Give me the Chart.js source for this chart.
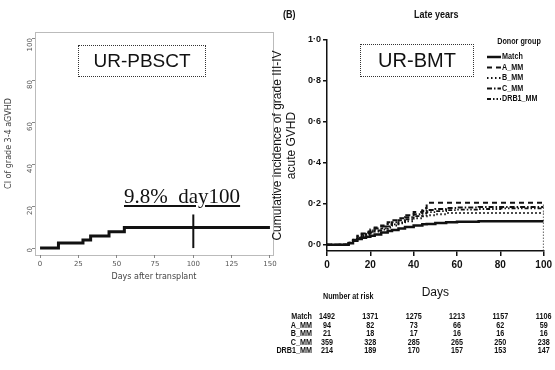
<!DOCTYPE html>
<html>
<head>
<meta charset="utf-8">
<script src="https://cdn.jsdelivr.net/npm/chart.js@4.4.0/dist/chart.umd.min.js"></script>
<style>
  body { margin: 0; background: #fff; width: 555px; height: 370px; overflow: hidden; position: relative; }
  canvas { position: absolute; top: 0; }
  #pbChart { left: 0; }
  #bmtChart { left: 270px; }
  .box { position: absolute; border: 1px dotted #333; font-family: "Liberation Sans", Arial, sans-serif; color: #111; text-align: center; box-sizing: border-box; }
  .lbl { position: absolute; color: #111; white-space: nowrap; }
  .narrow { font-family: "Liberation Sans", Arial, sans-serif; font-weight: bold; transform-origin: left top; transform: scaleX(0.82); }
</style>
</head>
<body>
<canvas id="pbChart" width="280" height="282"></canvas>
<canvas id="bmtChart" width="285" height="370"></canvas>

<div class="box" style="left:78px;top:45px;width:128px;height:32px;font-size:19px;line-height:30px;">UR-PBSCT</div>
<div class="box" style="left:360px;top:44px;width:114px;height:33px;font-size:20px;line-height:31px;">UR-BMT</div>
<div class="lbl" style="left:124px;top:184px;font-family:'Liberation Serif',serif;font-size:21px;text-decoration:underline;">9.8%&nbsp;&nbsp;day100</div>
<div class="lbl narrow" style="left:283px;top:8px;font-size:11px;">(B)</div>
<div class="lbl narrow" style="left:414px;top:8px;font-size:11px;">Late years</div>

<script>
// Left panel: UR-PBSCT, CI of grade 3-4 aGVHD (%)
const pbDays = [0, 12, 28, 33, 45, 55, 150];
const pbCI = [0, 2.4, 3.9, 5.8, 7.8, 9.8, 9.8];
const pbMarkDays = [100, 100];
const pbMarkCI = [0, 16];
const pbTicksX = [0, 25, 50, 75, 100, 125, 150];
const pbTicksY = [0, 20, 40, 60, 80, 100];

// Right panel: UR-BMT, cumulative incidence by donor group
const days = [0, 5, 8, 10, 12, 14, 16, 18, 20, 22, 25, 28, 30, 33, 36, 40, 44, 46, 50, 55, 60, 70, 80, 90, 100];
const matchCI = [0, 0, 0.002, 0.008, 0.02, 0.028, 0.035, 0.04, 0.045, 0.05, 0.06, 0.068, 0.073, 0.08, 0.087, 0.095, 0.1, 0.102, 0.107, 0.11, 0.113, 0.115, 0.115, 0.115, 0.115];
const aMM = [0, 0, 0, 0.01, 0.03, 0.045, 0.055, 0.065, 0.075, 0.085, 0.095, 0.11, 0.12, 0.13, 0.145, 0.16, 0.18, 0.205, 0.205, 0.205, 0.205, 0.205, 0.205, 0.205, 0.205];
const bMM = [0, 0, 0, 0.01, 0.02, 0.03, 0.04, 0.05, 0.06, 0.065, 0.075, 0.085, 0.095, 0.105, 0.115, 0.13, 0.14, 0.145, 0.15, 0.155, 0.155, 0.155, 0.155, 0.155, 0.155];
const cMM = [0, 0, 0, 0.01, 0.025, 0.04, 0.05, 0.06, 0.07, 0.08, 0.09, 0.1, 0.11, 0.12, 0.135, 0.15, 0.165, 0.17, 0.175, 0.18, 0.182, 0.185, 0.185, 0.185, 0.185];
const drb1MM = [0, 0, 0, 0.008, 0.022, 0.035, 0.045, 0.055, 0.063, 0.07, 0.08, 0.09, 0.1, 0.11, 0.125, 0.14, 0.155, 0.16, 0.165, 0.17, 0.172, 0.175, 0.178, 0.178, 0.178];
const endDays = [100, 100];
const endCI = [-0.03, 0.2];
const groups = ['Match', 'A_MM', 'B_MM', 'C_MM', 'DRB1_MM'];
const bmtTicksX = [0, 20, 40, 60, 80, 100];
const bmtTicksY = [0, 0.2, 0.4, 0.6, 0.8, 1.0];

// Number at risk
const riskDays = [0, 20, 40, 60, 80, 100];
const riskMatch = [1492, 1371, 1275, 1213, 1157, 1106];
const riskA = [94, 82, 73, 66, 62, 59];
const riskB = [21, 18, 17, 16, 16, 16];
const riskC = [359, 328, 285, 265, 250, 238];
const riskDRB1 = [214, 189, 170, 157, 153, 147];

const SANS = '"Liberation Sans", Arial, sans-serif';
const toXY = (xs, ys) => xs.map((x, i) => ({ x: x, y: ys[i] }));

// dotted frame round the left plot
const framePlugin = {
    id: 'frame',
    afterDraw(chart) {
        const a = chart.chartArea, ctx = chart.ctx;
        ctx.save();
        ctx.strokeStyle = '#777';
        ctx.lineWidth = 1;
        ctx.setLineDash([1, 1]);
        ctx.strokeRect(a.left + 0.5, a.top + 0.5, a.right - a.left, a.bottom - a.top);
        ctx.restore();
    }
};

new Chart(document.getElementById('pbChart'), {
    type: 'line',
    data: {
        datasets: [
            { data: toXY(pbDays, pbCI), stepped: true, borderColor: '#111', borderWidth: 3, pointRadius: 0 },
            { data: toXY(pbMarkDays, pbMarkCI), borderColor: '#111', borderWidth: 2, pointRadius: 0 }
        ]
    },
    options: {
        responsive: false,
        animation: false,
        layout: { padding: { top: 32, right: 7, left: 4, bottom: 0 } },
        plugins: { legend: { display: false }, tooltip: { enabled: false } },
        scales: {
            x: {
                type: 'linear', min: -3.3, max: 152,
                afterBuildTicks: s => { s.ticks = pbTicksX.map(v => ({ value: v })); },
                afterFit: s => { s.height = 27; },
                ticks: { font: { size: 7, family: 'DejaVu Sans' }, color: '#555', padding: 2 },
                grid: { drawOnChartArea: false, tickLength: 3, color: '#888' },
                border: { display: false },
                title: { display: true, text: 'Days after transplant', font: { size: 8, family: 'DejaVu Sans' }, color: '#444', padding: 0 }
            },
            y: {
                min: -3.3, max: 102.9,
                afterBuildTicks: s => { s.ticks = pbTicksY.map(v => ({ value: v })); },
                afterFit: s => { s.width = 31; },
                ticks: { font: { size: 7, family: 'DejaVu Sans' }, color: '#555', padding: 2, minRotation: 90, maxRotation: 90 },
                grid: { drawOnChartArea: false, tickLength: 3, color: '#888' },
                border: { display: false },
                title: { display: true, text: 'CI of grade 3-4 aGVHD', font: { size: 8, family: 'DejaVu Sans' }, color: '#444', padding: 0 }
            }
        }
    },
    plugins: [framePlugin]
});

const styles = [
    { borderWidth: 2.5, borderDash: [] },
    { borderWidth: 2, borderDash: [5, 4] },
    { borderWidth: 2, borderDash: [1.5, 2.5] },
    { borderWidth: 2, borderDash: [5, 2, 1.5, 2] },
    { borderWidth: 1.8, borderDash: [4, 2, 1.5, 2, 1.5, 2] }
];
const series = [matchCI, aMM, bMM, cMM, drb1MM];
const riskRows = [riskMatch, riskA, riskB, riskC, riskDRB1];

// condensed text, like the narrow font of the original figure
function narrowText(ctx, text, x, y, align) {
    ctx.save();
    ctx.translate(x, y);
    ctx.scale(0.8, 1);
    ctx.textAlign = align;
    ctx.fillText(text, 0, 0);
    ctx.restore();
}

// legend and number-at-risk table, drawn on the right canvas
const extrasPlugin = {
    id: 'extras',
    afterDraw(chart) {
        const ctx = chart.ctx, xs = chart.scales.x;
        ctx.save();
        ctx.fillStyle = '#111';
        ctx.strokeStyle = '#111';
        ctx.textBaseline = 'middle';
        ctx.font = 'bold 9px ' + SANS;
        narrowText(ctx, 'Donor group', 249, 42, 'center');
        groups.forEach((g, i) => {
            const y = 57 + i * 10.5;
            ctx.lineWidth = styles[i].borderWidth;
            ctx.setLineDash(styles[i].borderDash);
            ctx.beginPath();
            ctx.moveTo(217, y);
            ctx.lineTo(231, y);
            ctx.stroke();
            narrowText(ctx, g, 232, y, 'left');
        });
        ctx.setLineDash([]);
        narrowText(ctx, 'Number at risk', 53, 297, 'left');
        groups.forEach((g, i) => {
            const y = 317 + i * 8.5;
            narrowText(ctx, g, 42, y, 'right');
            riskRows[i].forEach((n, j) => {
                narrowText(ctx, String(n), xs.getPixelForValue(riskDays[j]), y, 'center');
            });
        });
        ctx.restore();
    }
};

const bmtSets = groups.map((g, i) => ({
    label: g,
    data: toXY(days, series[i]),
    stepped: true,
    borderColor: '#111',
    borderWidth: styles[i].borderWidth,
    borderDash: styles[i].borderDash,
    pointRadius: 0
}));
bmtSets.push({ label: 'end', data: toXY(endDays, endCI), borderColor: '#333', borderWidth: 1.5, borderDash: [1.5, 1.5], pointRadius: 0 });

new Chart(document.getElementById('bmtChart'), {
    type: 'line',
    data: { datasets: bmtSets },
    options: {
        responsive: false,
        animation: false,
        layout: { padding: { top: 40, right: 7, left: 0, bottom: 70 } },
        plugins: { legend: { display: false }, tooltip: { enabled: false } },
        scales: {
            x: {
                type: 'linear', min: 0, max: 100,
                afterBuildTicks: s => { s.ticks = bmtTicksX.map(v => ({ value: v })); },
                afterFit: s => { s.height = 49; },
                ticks: { font: { size: 10, weight: 'bold', family: SANS }, color: '#111', padding: 3 },
                grid: { drawOnChartArea: false, tickLength: 5, color: '#111', lineWidth: 1.5 },
                border: { display: true, color: '#111', width: 1.5 },
                title: { display: true, text: 'Days', font: { size: 12, family: SANS }, color: '#111', padding: 0 }
            },
            y: {
                min: -0.03, max: 1.0,
                afterBuildTicks: s => { s.ticks = bmtTicksY.map(v => ({ value: v })); },
                afterFit: s => { s.width = 57; },
                ticks: { font: { size: 9, weight: 'bold', family: SANS }, color: '#111', padding: 2,
                         callback: v => v.toFixed(1).replace('.', '·') },
                grid: { drawOnChartArea: false, tickLength: 4, color: '#111', lineWidth: 1.5 },
                border: { display: true, color: '#111', width: 1.5 },
                title: { display: true, text: ['Cumulative incidence of grade III-IV', 'acute GVHD'],
                         font: { size: 12, family: SANS, lineHeight: 1.2 }, color: '#111', padding: 0 }
            }
        }
    },
    plugins: [extrasPlugin]
});
</script>
</body>
</html>
